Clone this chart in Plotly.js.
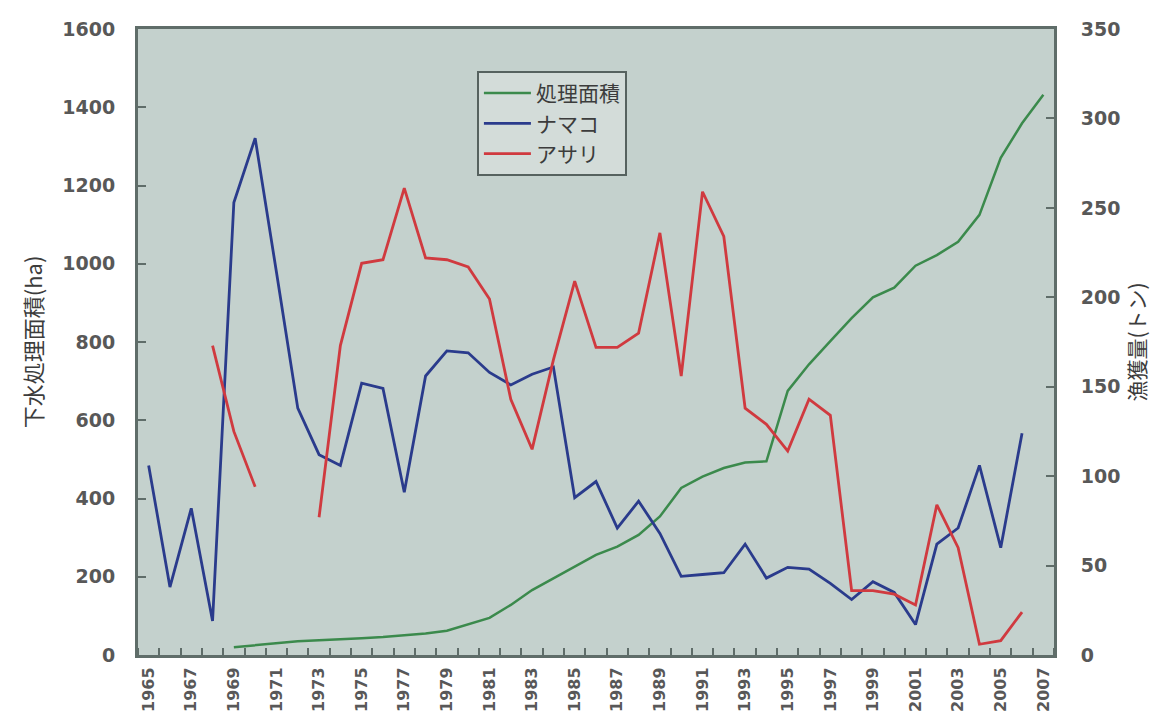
<!DOCTYPE html>
<html>
<head>
<meta charset="utf-8">
<script src="https://cdn.plot.ly/plotly-3.0.1.min.js"></script>
<style>html,body{margin:0;padding:0;background:#fff;}#chart{width:1151px;height:718px;}</style>
</head>
<body>
<div id="chart"></div>
<script>
const years = [1965,1966,1967,1968,1969,1970,1971,1972,1973,1974,1975,1976,1977,1978,1979,1980,1981,1982,1983,1984,1985,1986,1987,1988,1989,1990,1991,1992,1993,1994,1995,1996,1997,1998,1999,2000,2001,2002,2003,2004,2005,2006,2007];
// 処理面積 (ha), left axis
const areaHa = [null,null,null,null,20,25,30,35,38,40,43,46,50,55,62,78,95,128,166,196,226,256,277,307,354,427,456,478,492,495,675,743,802,861,914,939,995,1022,1056,1125,1271,1359,1432];
// ナマコ (トン), right axis
const namako = [106,38,82,19,253,289,214,138,112,106,152,149,91,156,170,169,158,151,157,161,88,97,71,86,68,44,45,46,62,43,49,48,40,31,41,35,17,62,71,106,60,124,null];
// アサリ (トン), right axis
const asari = [null,null,null,173,125,94,null,null,77,173,219,221,261,222,221,217,199,143,115,165,209,172,172,180,236,156,259,234,138,129,114,143,134,36,36,34,28,84,60,6,8,24,null];
const xLabelYears = [1965,1967,1969,1971,1973,1975,1977,1979,1981,1983,1985,1987,1989,1991,1993,1995,1997,1999,2001,2003,2005,2007];
const seriesNames = ['処理面積','ナマコ','アサリ'];

const axisColor = '#5f6d69';
const tickFont = {family:'DejaVu Sans, sans-serif', size:19, color:'#585858', weight:'bold'};
const xTickFont = {family:'DejaVu Sans, sans-serif', size:16, color:'#585858', weight:'bold'};
const cjkFont = 'Noto Sans CJK JP, sans-serif';

const traces = [
  {x:years, y:areaHa, name:seriesNames[0], type:'scatter', mode:'lines', line:{color:'#3b8a4c', width:2.5}, yaxis:'y'},
  {x:years, y:namako, name:seriesNames[1], type:'scatter', mode:'lines', line:{color:'#2a3b8c', width:2.8}, yaxis:'y2'},
  {x:years, y:asari, name:seriesNames[2], type:'scatter', mode:'lines', line:{color:'#d03a3f', width:2.8}, yaxis:'y2'}
];

const layout = {
  width:1151, height:718,
  margin:{l:138, r:97, t:29, b:63},
  paper_bgcolor:'#ffffff',
  plot_bgcolor:'#c4d1cd',
  showlegend:true,
  legend:{x:0.37, y:0.933, xanchor:'left', yanchor:'top', bgcolor:'#d3dcd9', bordercolor:'#56625f', borderwidth:2,
    font:{family:cjkFont, size:21, color:'#3c3c3c'}, itemwidth:47, tracegroupgap:0},
  xaxis:{
    type:'linear', range:[1964.5, 2007.5],
    tickmode:'array', tickvals:xLabelYears, ticktext:xLabelYears.map(String),
    tickangle:-90, ticks:'', tickfont:xTickFont,
    minor:{tickmode:'linear', tick0:1964.5, dtick:1, ticks:'inside', ticklen:7, tickwidth:2, tickcolor:axisColor},
    showgrid:false, zeroline:false,
    showline:true, linecolor:axisColor, linewidth:3, mirror:true,
    ticklabelstandoff:3
  },
  yaxis:{
    range:[0,1600], dtick:200, tick0:0,
    ticks:'inside', ticklen:8, tickwidth:2, tickcolor:axisColor,
    tickfont:tickFont, showgrid:false, zeroline:false,
    showline:true, linecolor:axisColor, linewidth:3,
    ticklabelstandoff:16,
    title:{text:'下水処理面積(ha)', font:{family:cjkFont, size:22, color:'#3c3c3c'}, standoff:14}
  },
  yaxis2:{
    overlaying:'y', side:'right', range:[0,350], dtick:50, tick0:0,
    ticks:'inside', ticklen:8, tickwidth:2, tickcolor:axisColor,
    tickfont:tickFont, showgrid:false, zeroline:false,
    showline:true, linecolor:axisColor, linewidth:3,
    ticklabelstandoff:20,
    title:{text:'漁獲量(トン)', font:{family:cjkFont, size:21, color:'#3c3c3c'}, standoff:14}
  }
};

Plotly.newPlot('chart', traces, layout, {displayModeBar:false, staticPlot:true});
</script>
</body>
</html>
